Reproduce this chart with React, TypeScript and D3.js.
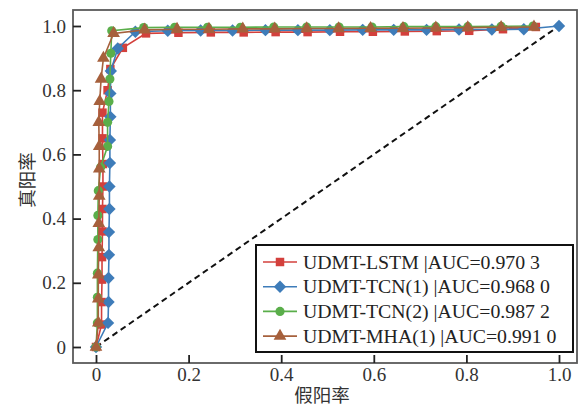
import React, { useEffect, useRef } from 'react';
import * as d3 from 'd3';

// tick values and labels
const xTicks = [0, 0.2, 0.4, 0.6, 0.8, 1.0];
const yTicks = [0, 0.2, 0.4, 0.6, 0.8, 1.0];
const tickLabels = ['0', '0.2', '0.4', '0.6', '0.8', '1.0'];

// series
const lstmFpr = [0, 0.012, 0.012, 0.013, 0.013, 0.014, 0.014, 0.015, 0.015, 0.014, 0.014, 0.025, 0.031, 0.058, 0.108, 0.178, 0.248, 0.319, 0.388, 0.457, 0.527, 0.598, 0.667, 0.736, 0.806, 0.879, 0.95];
const lstmTpr = [0, 0.07, 0.14, 0.21, 0.28, 0.36, 0.43, 0.5, 0.57, 0.65, 0.73, 0.8, 0.866, 0.932, 0.977, 0.979, 0.98, 0.98, 0.981, 0.981, 0.982, 0.982, 0.983, 0.984, 0.985, 0.99, 0.997];

const tcn1Fpr = [0, 0.026, 0.027, 0.027, 0.028, 0.028, 0.029, 0.029, 0.03, 0.03, 0.031, 0.031, 0.032, 0.047, 0.085, 0.155, 0.226, 0.295, 0.366, 0.436, 0.505, 0.576, 0.643, 0.714, 0.784, 0.855, 0.924, 1.0];
const tcn1Tpr = [0, 0.075, 0.14, 0.215, 0.287, 0.358, 0.43, 0.5, 0.573, 0.645, 0.717, 0.79, 0.86, 0.93, 0.982, 0.985, 0.986, 0.986, 0.987, 0.987, 0.987, 0.988, 0.988, 0.988, 0.989, 0.989, 0.99, 1.0];

const tcn2Fpr = [0, 0.003, 0.003, 0.003, 0.004, 0.004, 0.005, 0.01, 0.025, 0.025, 0.028, 0.03, 0.032, 0.034, 0.103, 0.17, 0.241, 0.312, 0.384, 0.455, 0.525, 0.596, 0.665, 0.734, 0.803, 0.875, 0.944];
const tcn2Tpr = [0, 0.075, 0.155, 0.23, 0.335, 0.41, 0.487, 0.56, 0.625, 0.7, 0.765, 0.835, 0.915, 0.985, 0.995, 0.996, 0.996, 0.996, 0.997, 0.997, 0.997, 0.997, 0.998, 0.998, 0.998, 0.999, 1.0];

const mhaFpr = [0, 0.005, 0.005, 0.005, 0.006, 0.006, 0.007, 0.007, 0.007, 0.006, 0.008, 0.011, 0.016, 0.038, 0.105, 0.175, 0.244, 0.317, 0.386, 0.455, 0.524, 0.593, 0.663, 0.734, 0.803, 0.875, 0.946];
const mhaTpr = [0, 0.075, 0.15, 0.225, 0.31, 0.385, 0.47, 0.555, 0.625, 0.7, 0.765, 0.835, 0.9, 0.977, 0.988, 0.99, 0.99, 0.991, 0.991, 0.992, 0.992, 0.993, 0.993, 0.994, 0.995, 0.996, 0.997];

const seriesNames = ['UDMT-LSTM |AUC=0.970 3', 'UDMT-TCN(1) |AUC=0.968 0', 'UDMT-TCN(2) |AUC=0.987 2', 'UDMT-MHA(1) |AUC=0.991 0'];
const seriesColors = ['#d3403c', '#3e7cb9', '#5aae4a', '#a6603c'];
const seriesMarkers = ['square', 'diamond', 'circle', 'triangle'];
const seriesFpr = [lstmFpr, tcn1Fpr, tcn2Fpr, mhaFpr];
const seriesTpr = [lstmTpr, tcn1Tpr, tcn2Tpr, mhaTpr];

const W = 581;
const H = 406;
const box = { left: 73, top: 10, right: 577, bottom: 363 };
const serif = '"Liberation Serif", "DejaVu Serif", serif';
const cjk = '"Noto Sans CJK SC", sans-serif';

const markerPath = (kind: string) => {
    if (kind === 'square') return d3.symbol(d3.symbolSquare, 72)();
    if (kind === 'circle') return d3.symbol(d3.symbolCircle, 66)();
    if (kind === 'triangle') return d3.symbol(d3.symbolTriangle, 70)();
    const r = 6.2;
    return `M0,${-r}L${r},0L0,${r}L${-r},0Z`;
};

const App = () => {
    const svgRef = useRef<SVGSVGElement>(null);

    useEffect(() => {
        const svg = d3.select(svgRef.current);
        svg.selectAll('*').remove();

        const x = d3.scaleLinear().domain([0, 1]).range([96, 559]);
        const y = d3.scaleLinear().domain([0, 1]).range([347, 26]);

        // frame
        svg.append('rect')
            .attr('x', box.left).attr('y', box.top)
            .attr('width', box.right - box.left).attr('height', box.bottom - box.top)
            .attr('fill', 'none').attr('stroke', '#5a5a5a').attr('stroke-width', 1.8);

        // axes, ticks pointing inward
        const xAxis = d3.axisBottom(x).tickValues(xTicks)
            .tickFormat((d, i) => tickLabels[i]).tickSizeInner(-8).tickSizeOuter(0).tickPadding(5);
        const gx = svg.append('g').attr('transform', `translate(0,${box.bottom})`).call(xAxis);
        const yAxis = d3.axisLeft(y).tickValues(yTicks)
            .tickFormat((d, i) => tickLabels[i]).tickSizeInner(-8).tickSizeOuter(0).tickPadding(7);
        const gy = svg.append('g').attr('transform', `translate(${box.left},0)`).call(yAxis);
        [gx, gy].forEach((g) => {
            g.select('.domain').remove();
            g.selectAll('.tick line').attr('stroke', '#222').attr('stroke-width', 1.8);
            g.selectAll('.tick text').attr('fill', '#333').style('font-family', serif).style('font-size', '19px');
        });

        // chance line
        svg.append('path')
            .attr('d', d3.line()([[x(0), y(0)], [x(1), y(1)]]))
            .attr('stroke', '#111').attr('stroke-width', 2).attr('stroke-dasharray', '6,4').attr('fill', 'none');

        seriesNames.forEach((name, s) => {
            const pts: [number, number][] = seriesFpr[s].map((f, i) => [x(f), y(seriesTpr[s][i])]);
            const g = svg.append('g');
            g.append('path')
                .attr('d', d3.line()(pts))
                .attr('fill', 'none').attr('stroke', seriesColors[s]).attr('stroke-width', 1.6);
            g.selectAll('path.mk').data(pts).join('path')
                .attr('class', 'mk')
                .attr('d', markerPath(seriesMarkers[s]))
                .attr('transform', (p) => `translate(${p[0]},${p[1]})`)
                .attr('fill', seriesColors[s]);
        });

        // legend
        const lg = svg.append('g');
        lg.append('rect').attr('x', 256).attr('y', 245).attr('width', 317).attr('height', 107)
            .attr('fill', 'white').attr('stroke', '#111').attr('stroke-width', 2);
        seriesNames.forEach((name, s) => {
            const ly = 262 + s * 24.7;
            lg.append('line').attr('x1', 263).attr('x2', 297).attr('y1', ly).attr('y2', ly)
                .attr('stroke', seriesColors[s]).attr('stroke-width', 1.6);
            lg.append('path').attr('d', markerPath(seriesMarkers[s]))
                .attr('transform', `translate(280,${ly})`).attr('fill', seriesColors[s]);
            lg.append('text').attr('x', 303).attr('y', ly + 6.5)
                .style('font-family', serif).style('font-size', '19.8px').attr('fill', '#222')
                .text(name);
        });

        // axis titles
        svg.append('text').attr('x', 322).attr('y', 402).attr('text-anchor', 'middle')
            .style('font-family', cjk).style('font-size', '18.5px').attr('fill', '#333').text('假阳率');
        svg.append('text').attr('transform', 'translate(34,180) rotate(-90)').attr('text-anchor', 'middle')
            .style('font-family', cjk).style('font-size', '18.5px').attr('fill', '#333').text('真阳率');
    }, []);

    return (
        <svg ref={svgRef} width={W} height={H} style={{ position: 'absolute', left: 0, top: 0, background: 'white' }} />
    );
};

export default App;
